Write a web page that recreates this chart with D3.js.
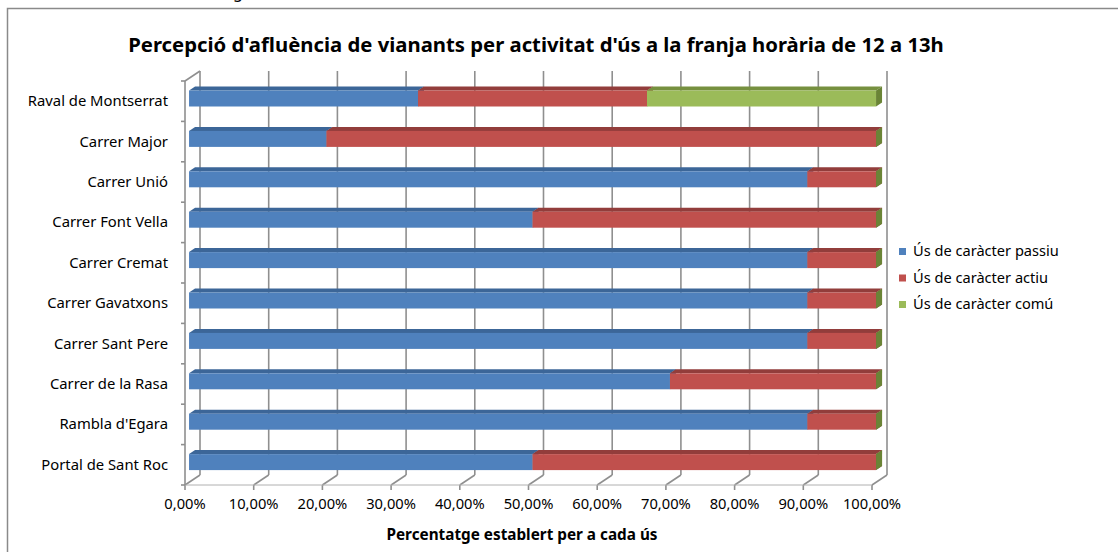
<!DOCTYPE html>
<html>
<head>
<meta charset="utf-8">
<script src="https://cdn.jsdelivr.net/npm/d3@7"></script>
<style>
  body { margin: 0; background: #fff; }
  text { font-family: "Noto Sans", "Open Sans", sans-serif; fill: #000; }
</style>
</head>
<body>
<div id="chart"></div>
<script>
// chart data
let categories = ["Raval de Montserrat", "Carrer Major", "Carrer Unió", "Carrer Font Vella", "Carrer Cremat",
                  "Carrer Gavatxons", "Carrer Sant Pere", "Carrer de la Rasa", "Rambla d'Egara", "Portal de Sant Roc"];
let seriesNames = ["Ús de caràcter passiu", "Ús de caràcter actiu", "Ús de caràcter comú"];
let passiu = [33.33, 20, 90, 50, 90, 90, 90, 70, 90, 50];
let actiu  = [33.33, 80, 10, 50, 10, 10, 10, 30, 10, 50];
let comu   = [33.34, 0, 0, 0, 0, 0, 0, 0, 0, 0];
let tickValues = [0, 10, 20, 30, 40, 50, 60, 70, 80, 90, 100];
let tickLabels = ["0,00%", "10,00%", "20,00%", "30,00%", "40,00%", "50,00%", "60,00%", "70,00%", "80,00%", "90,00%", "100,00%"];

var width = 1118, height = 552;
var depthX = 15, depthY = -10;   // offset of back wall vs. front plane

var colors = [
    {front: "#4F81BD", top: "#3C6698", side: "#3A5F8C"},
    {front: "#C0504D", top: "#923D3B", side: "#8C3B39"},
    {front: "#9BBB59", top: "#76903F", side: "#6A8436"}
];

var svg = d3.select("#chart").append("svg")
    .attr("width", width)
    .attr("height", height);

// outer frame (runs off the page at right/bottom)
svg.append("rect")
    .attr("x", 7.5).attr("y", 8.5)
    .attr("width", 1200).attr("height", 600)
    .attr("fill", "none")
    .attr("stroke", "#8a8a8a")
    .attr("stroke-width", 1.5);

// cut-off heading above the frame
svg.append("text").attr("x", 233).attr("y", -2)
    .style("font-size", "16px").text("g");

svg.append("text")
    .attr("x", 536).attr("y", 52)
    .attr("text-anchor", "middle")
    .style("font-size", "20.3px").style("font-weight", "bold")
    .text("Percepció d'afluència de vianants per activitat d'ús a la franja horària de 12 a 13h");

var x = d3.scaleLinear().domain([0, 100]).range([185, 872]);
var y = d3.scaleBand().domain(categories).range([81, 485]);

var grid = svg.append("g").attr("stroke", "#8f8f8f").attr("stroke-width", 1.6).attr("fill", "none");

// back wall gridlines + floor lines
tickValues.forEach(function(t) {
    grid.append("line")
        .attr("x1", x(t) + depthX).attr("y1", 81 + depthY)
        .attr("x2", x(t) + depthX).attr("y2", 485 + depthY);
    grid.append("line")
        .attr("x1", x(t)).attr("y1", 485)
        .attr("x2", x(t) + depthX).attr("y2", 485 + depthY);
    grid.append("line")
        .attr("x1", x(t)).attr("y1", 485)
        .attr("x2", x(t)).attr("y2", 490);
});
// floor front edge
grid.append("line").attr("x1", x(0)).attr("y1", 485).attr("x2", x(100)).attr("y2", 485)
    .attr("stroke", "#b0b0b0").attr("stroke-width", 1);
// left wall front edge and top
grid.append("line").attr("x1", x(0)).attr("y1", 81).attr("x2", x(0)).attr("y2", 485);
grid.append("line").attr("x1", x(0)).attr("y1", 81).attr("x2", x(0) + depthX).attr("y2", 81 + depthY);
// category ticks
d3.range(categories.length + 1).forEach(function(i) {
    var yy = 81 + i * y.bandwidth();
    grid.append("line").attr("x1", x(0) - 4).attr("y1", yy).attr("x2", x(0)).attr("y2", yy);
});

// tick labels
svg.append("g").selectAll("text")
    .data(tickValues)
    .enter()
    .append("text")
        .attr("x", function(d) { return x(d); })
        .attr("y", 509)
        .attr("text-anchor", "middle")
        .style("font-size", "14.7px")
        .text(function(d, i) { return tickLabels[i]; });

// category labels
svg.append("g").selectAll("text")
    .data(categories)
    .enter()
    .append("text")
        .attr("x", 168)
        .attr("y", function(d) { return y(d) + y.bandwidth() / 2 + 5; })
        .attr("text-anchor", "end")
        .style("font-size", "14.8px")
        .text(function(d) { return d; });

// stacked 3d bars
var rows = categories.map(function(c, i) {
    return {cat: c, s0: passiu[i], s1: actiu[i], s2: comu[i]};
});
var stack = d3.stack().keys(["s0", "s1", "s2"])(rows);

var t0 = 0.27, t1 = 0.67, barH = 16;
var bars = svg.append("g");

categories.forEach(function(c, i) {
    var yc = y(c) + y.bandwidth() / 2;
    var fy = yc - barH / 2 + depthY * t0;
    var dx = depthX * (t1 - t0), dy = depthY * (t1 - t0);
    stack.forEach(function(layer, k) {
        var seg = layer[i];
        var xa = x(seg[0]) + depthX * t0, xb = x(seg[1]) + depthX * t0;
        // top face
        bars.append("path")
            .attr("d", "M" + xa + "," + fy + "L" + xb + "," + fy + "L" + (xb + dx) + "," + (fy + dy) +
                       "L" + (xa + dx) + "," + (fy + dy) + "Z")
            .attr("fill", colors[k].top);
        // front face
        bars.append("rect")
            .attr("x", xa).attr("y", fy)
            .attr("width", xb - xa).attr("height", barH)
            .attr("fill", colors[k].front);
        // side face
        bars.append("path")
            .attr("d", "M" + xb + "," + fy + "L" + (xb + dx) + "," + (fy + dy) + "L" + (xb + dx) + "," + (fy + dy + barH) +
                       "L" + xb + "," + (fy + barH) + "Z")
            .attr("fill", colors[k].side);
    });
});

// axis title
svg.append("text")
    .attr("x", 522).attr("y", 540)
    .attr("text-anchor", "middle")
    .style("font-size", "15.3px").style("font-weight", "bold")
    .text("Percentatge establert per a cada ús");

// legend
var legend = svg.append("g").selectAll("g")
    .data(seriesNames)
    .enter()
    .append("g")
        .attr("transform", function(d, i) { return "translate(899," + (248 + i * 26.5) + ")"; });
legend.append("rect")
    .attr("width", 7).attr("height", 7)
    .attr("fill", function(d, i) { return colors[i].front; });
legend.append("text")
    .attr("x", 14).attr("y", 8)
    .style("font-size", "14.6px")
    .text(function(d) { return d; });
</script>
</body>
</html>
